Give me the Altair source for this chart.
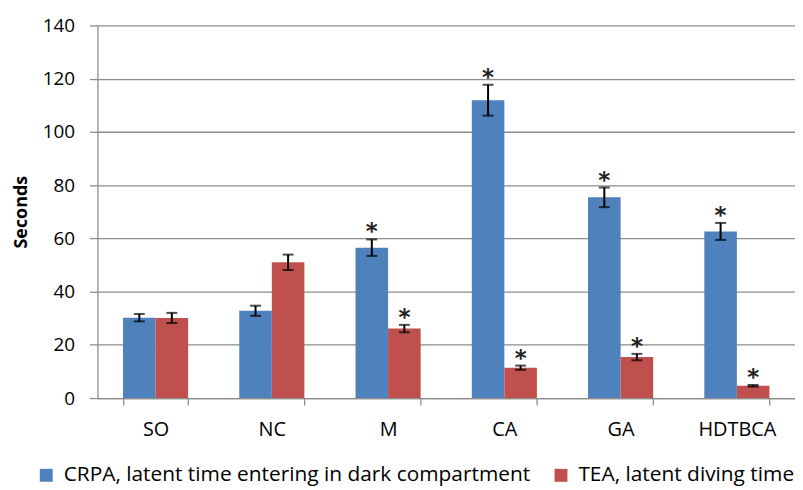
import altair as alt
import pandas as pd

categories = ["SO", "NC", "M", "CA", "GA", "HDTBCA"]
series_names = ["CRPA, latent time entering in dark compartment", "TEA, latent diving time"]
crpa_mean = [30.2, 32.8, 56.5, 111.9, 75.4, 62.6]
crpa_err = [1.4, 1.9, 3.1, 5.8, 3.7, 3.2]
crpa_sig = [False, False, True, True, True, True]
tea_mean = [30.1, 51.0, 26.1, 11.4, 15.4, 4.6]
tea_err = [1.9, 2.9, 1.4, 0.8, 1.2, 0.3]
tea_sig = [False, False, True, True, True, True]
colors = ["#4F81BD", "#C0504D"]
y_ticks = [0, 20, 40, 60, 80, 100, 120, 140]

rows = []
for name, means, errs, sigs in [
    (series_names[0], crpa_mean, crpa_err, crpa_sig),
    (series_names[1], tea_mean, tea_err, tea_sig),
]:
    for c, m, e, s in zip(categories, means, errs, sigs):
        rows.append({"group": c, "series": name, "mean": m,
                     "lo": m - e, "hi": m + e, "star": "*" if s else ""})
df = pd.DataFrame(rows)

FONT = "Open Sans"
GRID = "#8C8C8C"

x_enc = alt.X("group:N", sort=categories, title=None,
              scale=alt.Scale(paddingInner=0.44, paddingOuter=0.22),
              axis=alt.Axis(labelAngle=0, labelFont=FONT, labelFontSize=20,
                            labelColor="#000000", labelPadding=15,
                            tickBand="extent", tickSize=7, tickColor=GRID,
                            domainColor=GRID, domainWidth=1.3, tickWidth=1.3,
                            grid=False))
xo_enc = alt.XOffset("series:N", sort=series_names,
                     scale=alt.Scale(paddingInner=0, paddingOuter=0))
y_scale = alt.Scale(domain=[0, 140], nice=False)

base = alt.Chart(df)

bars = base.mark_bar().encode(
    x=x_enc,
    xOffset=xo_enc,
    y=alt.Y("mean:Q", scale=y_scale, title="Seconds",
            axis=alt.Axis(values=y_ticks, labelFont=FONT, labelFontSize=19,
                          labelColor="#000000", labelPadding=15,
                          tickSize=8, tickColor=GRID, tickWidth=1.3,
                          domainColor=GRID, domainWidth=1.3,
                          grid=True, gridColor=GRID, gridWidth=1.3,
                          titleFont=FONT, titleFontSize=18, titleFontWeight="bold",
                          titleColor="#000000", titlePadding=12)),
    color=alt.Color("series:N", sort=series_names,
                    scale=alt.Scale(domain=series_names, range=colors),
                    legend=alt.Legend(title=None, orient="none", direction="horizontal",
                                      legendX=-62, legendY=442,
                                      symbolType="square", symbolSize=169,
                                      symbolStrokeWidth=0,
                                      labelFont=FONT, labelFontSize=21,
                                      labelColor="#000000", labelLimit=700,
                                      labelOffset=7, columnPadding=20)),
)

rule = base.mark_rule(color="#000000", strokeWidth=2).encode(
    x=alt.X("group:N", sort=categories),
    xOffset=xo_enc,
    y=alt.Y("lo:Q", scale=y_scale),
    y2="hi:Q",
)
cap_lo = base.mark_tick(color="#000000", size=11, thickness=2).encode(
    x=alt.X("group:N", sort=categories),
    xOffset=xo_enc,
    y=alt.Y("lo:Q", scale=y_scale),
)
cap_hi = base.mark_tick(color="#000000", size=11, thickness=2).encode(
    x=alt.X("group:N", sort=categories),
    xOffset=xo_enc,
    y=alt.Y("hi:Q", scale=y_scale),
)
stars = base.mark_text(font="DejaVu Sans", fontSize=23, fontWeight="bold",
                       color="#222222", baseline="alphabetic", dy=0).encode(
    x=alt.X("group:N", sort=categories),
    xOffset=xo_enc,
    y=alt.Y("hi:Q", scale=y_scale),
    text="star:N",
)

chart = alt.layer(bars, rule, cap_lo, cap_hi, stars).properties(
    width=702, height=375,
    autosize=alt.AutoSizeParams(type="none"),
    padding={"left": 90, "top": 16, "right": 0, "bottom": 91},
    background="#FFFFFF",
).configure_view(stroke=None)

chart.save("out.html", embed_options={"renderer": "svg", "actions": False})
